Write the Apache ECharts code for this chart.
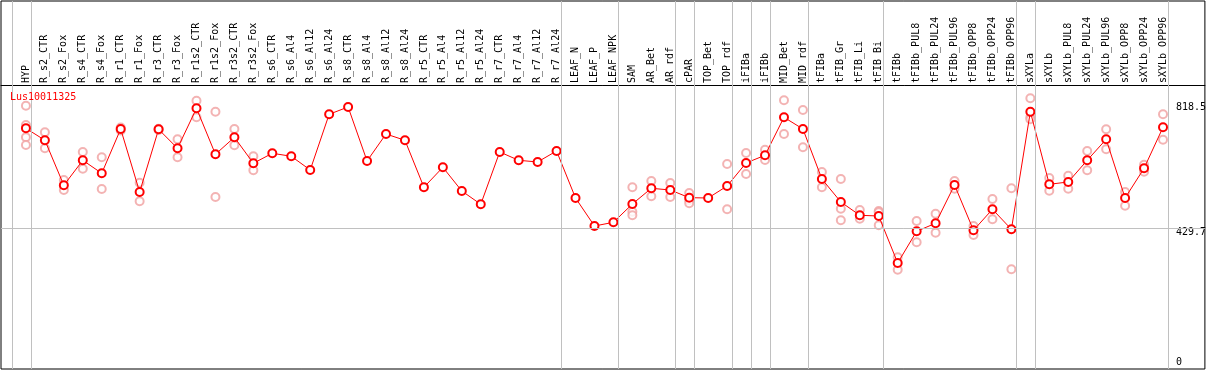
<!DOCTYPE html>
<html>
<head>
<meta charset="utf-8">
<script src="https://cdn.jsdelivr.net/npm/echarts@6/dist/echarts.min.js"></script>
<style>
html, body { margin: 0; padding: 0; background: #fff; }
#chart { width: 1209px; height: 370px; }
</style>
</head>
<body>
<div id="chart"></div>
<script>
// gene name shown in the corner
const chartTitle = 'Lus10011325';

const categories = [
    'HYP', 'R_s2_CTR', 'R_s2_Fox', 'R_s4_CTR', 'R_s4_Fox', 'R_r1_CTR', 'R_r1_Fox', 'R_r3_CTR', 'R_r3_Fox',
    'R_r1s2_CTR', 'R_r1s2_Fox', 'R_r3s2_CTR', 'R_r3s2_Fox', 'R_s6_CTR', 'R_s6_Al4', 'R_s6_Al12', 'R_s6_Al24',
    'R_s8_CTR', 'R_s8_Al4', 'R_s8_Al12', 'R_s8_Al24', 'R_r5_CTR', 'R_r5_Al4', 'R_r5_Al12', 'R_r5_Al24',
    'R_r7_CTR', 'R_r7_Al4', 'R_r7_Al12', 'R_r7_Al24', 'LEAF_N', 'LEAF_P', 'LEAF_NPK', 'SAM', 'AR_Bet', 'AR_rdf',
    'cPAR', 'TOP_Bet', 'TOP_rdf', 'iFIBa', 'iFIBb', 'MID_Bet', 'MID_rdf', 'tFIBa', 'tFIB_Gr', 'tFIB_Li', 'tFIB_Bi',
    'tFIBb', 'tFIBb_PUL8', 'tFIBb_PUL24', 'tFIBb_PUL96', 'tFIBb_OPP8', 'tFIBb_OPP24', 'tFIBb_OPP96',
    'sXYLa', 'sXYLb', 'sXYLb_PUL8', 'sXYLb_PUL24', 'sXYLb_PUL96', 'sXYLb_OPP8', 'sXYLb_OPP24', 'sXYLb_OPP96'
];

// mean expression (red line)
const meanValues = [
    750.1, 711.6, 567.2, 647.4, 605.7, 747.9, 545.7, 746.9, 685.9,
    814.3, 666.7, 721.2, 637.8, 669.9, 660.3, 616.3, 795.1,
    818.5, 645.2, 731.8, 711.6, 560.8, 624.9, 548.9, 506.2,
    674.1, 647.4, 642.0, 677.3, 526.4, 436.5, 448.4, 507.1, 557.5, 552.1,
    527.4, 526.4, 564.9, 638.8, 663.5, 785.4, 747.9, 587.4, 513.6, 470.9, 468.6,
    317.8, 419.5, 445.2, 568.1, 422.7, 490.1, 425.9,
    803.4, 570.4, 577.8, 647.4, 714.8, 526.4, 621.7, 753.3
];

// single replicates (pale circles), one list per category
const replicateValues = [
    [822.7, 760.7, 721.2, 696.5], [737.3, 685.9], [584.2, 552.1], [674.1, 620.5], [657.0, 555.3],
    [752.7, 743.1], [575.5, 515.8], [748.9, 744.7], [714.8, 657.0],
    [838.7, 785.4], [803.4, 529.6], [747.9, 695.6], [660.3, 615.3], [], [], [], [],
    [], [], [], [], [], [], [], [],
    [], [], [], [], [], [], [], [560.8, 482.4, 470.9], [581.0, 531.9], [574.6, 529.6],
    [542.5, 519.0, 509.4], [], [635.5, 490.1], [670.8, 603.4], [681.4, 648.4], [840.0, 731.8], [808.9, 689.1],
    [609.9, 560.8], [587.4, 492.1, 454.8], [487.9, 460.0], [484.7, 480.5, 438.8],
    [336.1, 296.3], [452.6, 384.2], [476.0, 415.0], [581.0, 556.3], [436.5, 407.6], [523.2, 458.0], [557.5, 297.5],
    [846.4, 785.4, 779.0], [590.6, 549.8], [598.0, 556.3], [677.3, 615.3], [746.9, 682.7],
    [545.7, 501.7], [633.3, 610.8], [795.1, 713.5]
];

// last category index of each sample group (-1 = left edge)
const groupEnds = [-1, 0, 28, 31, 34, 35, 37, 38, 39, 41, 45, 52, 53, 60];

const yTicks = [0, 429.7, 818.5];

var chart = echarts.init(document.getElementById('chart'));

var lineData = categories.map((c, i) => [i, meanValues[i]]);
var repData = [];
replicateValues.forEach((list, i) => {
    list.forEach(v => repData.push([i, v]));
});
var sepLines = groupEnds.map(e => ({ xAxis: e + 5 / 19 }));

var option = {
    animation: false,
    backgroundColor: '#fff',
    textStyle: { fontFamily: 'DejaVu Sans Mono' },
    title: {
        text: chartTitle,
        left: 10,
        top: 92,
        padding: 0,
        textStyle: { color: '#ff0000', fontSize: 10, fontWeight: 'normal', fontFamily: 'DejaVu Sans Mono' }
    },
    grid: {
        left: 1, right: 1, top: 1, bottom: 1,
        show: true,
        borderColor: '#000',
        borderWidth: 1,
        backgroundColor: 'transparent'
    },
    xAxis: {
        type: 'value',
        position: 'top',
        offset: -84,
        min: -25 / 19,
        max: 1182 / 19,
        axisLine: { show: true, onZero: false, lineStyle: { color: '#000', width: 1 } },
        axisTick: { show: false },
        splitLine: { show: false },
        axisLabel: {
            customValues: categories.map((c, i) => i),
            rotate: -90,
            margin: 2,
            color: '#000',
            fontSize: 10,
            fontFamily: 'DejaVu Sans Mono',
            formatter: v => categories[Math.round(v)]
        }
    },
    yAxis: {
        type: 'value',
        position: 'right',
        min: -22.47,
        max: 1158.7,
        axisLine: { show: false },
        axisTick: { show: false },
        splitLine: { show: false },
        axisLabel: {
            customValues: yTicks,
            inside: true,
            align: 'left',
            margin: 29,
            color: '#000',
            fontSize: 10,
            fontFamily: 'DejaVu Sans Mono',
            formatter: v => (v === 429.7 ? '{low|' + v + '}' : String(v)),
            rich: {
                low: { fontSize: 10, fontFamily: 'DejaVu Sans Mono', color: '#000', padding: [8, 0, 0, 0] }
            }
        }
    },
    series: [
        {
            type: 'scatter',
            data: repData,
            symbol: 'emptyCircle',
            symbolSize: 8,
            silent: true,
            itemStyle: { color: '#f0a0a0', borderColor: '#f0a0a0', borderWidth: 1.2 },
            z: 2,
            markLine: {
                silent: true,
                symbol: 'none',
                label: { show: false },
                lineStyle: { color: '#c0c0c0', width: 1, type: 'solid' },
                data: sepLines.concat([{ yAxis: yTicks[1] }])
            }
        },
        {
            type: 'line',
            data: lineData,
            symbol: 'emptyCircle',
            symbolSize: 8,
            silent: true,
            lineStyle: { color: '#ff0000', width: 1 },
            itemStyle: { color: '#ff0000', borderColor: '#ff0000', borderWidth: 1.6 },
            z: 3
        }
    ]
};

chart.setOption(option);
window.addEventListener('resize', () => {
    chart.resize();
});
</script>
</body>
</html>
